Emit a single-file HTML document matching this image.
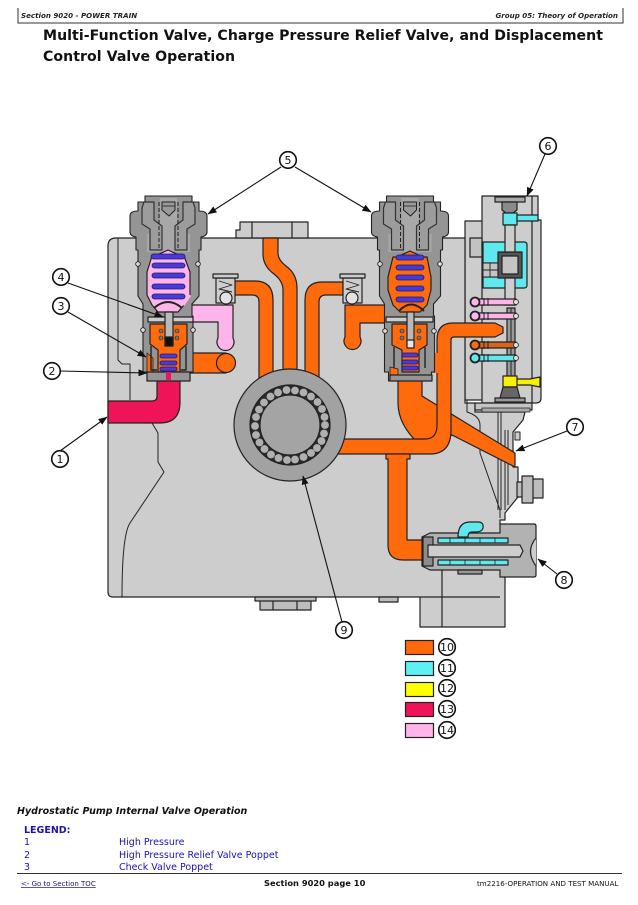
<!DOCTYPE html>
<html><head><meta charset="utf-8"><style>
html,body{margin:0;padding:0;background:#fff}
body{width:638px;height:905px;overflow:hidden}
svg{display:block}
text{font-family:"DejaVu Sans","Liberation Sans",sans-serif}
</style></head><body>
<svg width="638" height="905" viewBox="0 0 638 905" xmlns="http://www.w3.org/2000/svg">
<defs>
<marker id="a" markerWidth="9" markerHeight="7" refX="8.5" refY="3.5" orient="auto" markerUnits="userSpaceOnUse"><path d="M0 0L9 3.5L0 7z" fill="#111"/></marker>
<g id="cap" stroke="#222" stroke-width="1.1">
<path d="M-23 0H24V6H31V15Q39 15 39 20V36Q39 40 33 41V54H31V100L24 108V120H25V176H22V185H-21V176H-25V120H-25V108L-30 100V54H-32V41Q-38 40 -38 36V20Q-38 15 -30 15V6H-23Z" fill="#959595"/>
<path d="M-8 2H9V38L22 38V56H-21V38H-8Z" fill="#a8a8a8" stroke="none"/>
<path d="M-24 6H-14V24L-6 30V54H-18V33L-26 28V12ZM25 6H15V24L7 30V54H19V33L27 28V12Z" fill="#9c9c9c" stroke="#333" stroke-width="1.200"/>
<path d="M-9 6V54M10 6V54" fill="none" stroke-width="1" stroke-dasharray="4 2"/>
<path d="M-6 6H7V14L1 20L-6 14Z" fill="#9a9a9a" stroke-width="1"/>
<path d="M-6 10H7" fill="none" stroke-width=".8"/>
</g>
</defs>
<rect width="638" height="905" fill="#fff"/>
<!-- header -->
<path d="M18 8V23H623V8" fill="none" stroke="#333" stroke-width="1"/>
<text x="21" y="18" font-size="7.1" font-weight="bold" font-style="italic" fill="#222">Section 9020 - POWER TRAIN</text>
<text x="618" y="18" font-size="7.1" font-weight="bold" font-style="italic" fill="#222" text-anchor="end">Group 05: Theory of Operation</text>
<text x="43" y="40" font-size="14.1" font-weight="bold" fill="#111" textLength="560">Multi-Function Valve, Charge Pressure Relief Valve, and Displacement</text>
<text x="43" y="61" font-size="14.1" font-weight="bold" fill="#111" textLength="192">Control Valve Operation</text>

<g stroke="#222" stroke-width="1.2" stroke-linejoin="round">
<!-- right side shell behind body -->
<path d="M465 221H483V400H465Z" fill="#cdcdcd"/>
<!-- main body -->
<path d="M116 238H465V403H475V412H525L523 420L513 432V467H518V497L505 513V520H500V525L505 578V627H420V597H113Q108 597 108 592V246Q108 238 116 238Z" fill="#cdcdcd"/>
<path d="M118 238V360L122 364H130V400" fill="none" stroke-width="1"/>
<path d="M152 423L158 433V462L164 472L130 523Q122 535 122 597" fill="none" stroke-width="1"/>
<path d="M467 400V412Q480 416 480 425V453L500 510V518" fill="none" stroke-width="1"/>
<path d="M498 410V510M501 410V510M505 430V510M508 430V505" fill="none" stroke-width="1"/>
<path d="M515 432H520V440H515Z" fill="#cdcdcd" stroke-width="1"/>
<!-- lower housing pieces -->
<path d="M420 597H500" fill="none"/>
<path d="M442 570V627" fill="none"/>
<path d="M255 597H316V601H255Z M260 601H311V610H260Z M273 601V610M297 601V610" fill="#bdbdbd"/>
<path d="M379 597H398V602H379Z" fill="#bdbdbd"/>
<!-- top port -->
<path d="M236 238V230H240V222H308V238Z" fill="#cdcdcd"/>
<path d="M252 222V238M292 222V238" fill="none"/>
<!-- control block -->
<path d="M482 196H538V220H541V398Q541 403 536 403H482Z" fill="#cdcdcd"/>
<path d="M532 196V403" fill="none"/>
<path d="M475 403H532V410H475Z" fill="#c4c4c4"/>
<path d="M482 408H530V412H482Z" fill="#aaa" stroke-width=".8"/>
<path d="M517 482H522V497H517Z M522 476H533V503H522Z M533 479H543V498H533Z" fill="#bdbdbd"/>

<!-- orange passages -->
<g fill="#ff6a0d">
<path d="M263 238H278V253Q278 260 286 266Q297 274 297 288V385H283V290Q283 281 274 274Q263 266 263 254Z"/>
<path d="M235 281H255Q273 281 273 300V385H259V302Q259 295 252 295H235Z"/>
<path d="M343 282V295H326Q319 295 319 302V385H305V300Q305 282 322 282Z"/>
<path d="M188 353H226V373H188Z"/>
<circle cx="226" cy="363" r="9.500"/>
<path d="M345 305H393V323H360V337A8.500 8.500 0 1 1 345 337Z"/>
<!-- diagonal -->
<path d="M398 378H422V396L515 453V467L452 435L437 445H420Q398 425 398 403Z"/>
<!-- horizontal and riser -->
<path d="M335 439H425Q437 439 437 425V340Q437 323 453 323H495L503 327V333L495 337H454Q451 337 451 340V430Q451 454 430 454H335Z"/>
<path d="M427 353H438V373H427Z" stroke="none"/>
<!-- lower riser -->
<path d="M386 454H410V459H407V540H423V560H403Q388 560 388 545V459H386Z"/>
</g>
<!-- pink passage -->
<path d="M183 305H233V338A8.500 8.500 0 1 1 218 338V322H183Z" fill="#ffb4ea"/>
<!-- red -->
<path d="M157 380H180V402Q180 423 160 423H108V401H152Q157 401 157 396Z" fill="#ef1358"/>
<!-- relief check boxes -->
<g fill="#cdcdcd">
<path d="M216 278H235V303H216Z"/><rect x="213" y="274" width="25" height="4"/>
<path d="M343 278H362V303H343Z"/><rect x="340" y="274" width="25" height="4"/>
</g>
<circle cx="226" cy="298" r="6" fill="#e3e3e3"/>
<circle cx="352" cy="298" r="6" fill="#e3e3e3"/>
<path d="M219 281L232 285L219 289L232 292M346 281L359 285L346 289L359 292" fill="none" stroke-width=".9"/>

<!-- pump -->
<circle cx="290" cy="425" r="56" fill="#a2a2a2"/>
<circle cx="290" cy="425" r="40" fill="#2a2a2a"/>
<g fill="#b0b0b0" stroke="none">
<circle cx="325" cy="425" r="3.900"/><circle cx="324" cy="433.500" r="3.900"/><circle cx="321.500" cy="441" r="3.900"/><circle cx="317" cy="448" r="3.900"/><circle cx="311" cy="453" r="3.900"/><circle cx="303.500" cy="457" r="3.900"/><circle cx="295" cy="459.500" r="3.900"/><circle cx="287" cy="460" r="3.900"/><circle cx="278.500" cy="458" r="3.900"/><circle cx="271" cy="454.500" r="3.900"/><circle cx="264.500" cy="449" r="3.900"/><circle cx="259.500" cy="442.500" r="3.900"/><circle cx="256" cy="435" r="3.900"/><circle cx="255" cy="426" r="3.900"/><circle cx="256" cy="417" r="3.900"/><circle cx="259" cy="409.500" r="3.900"/><circle cx="264" cy="402.500" r="3.900"/><circle cx="270.500" cy="396.500" r="3.900"/><circle cx="278" cy="392.500" r="3.900"/><circle cx="286.500" cy="390" r="3.900"/><circle cx="295" cy="390.500" r="3.900"/><circle cx="303.500" cy="392.500" r="3.900"/><circle cx="311" cy="396.500" r="3.900"/><circle cx="317.500" cy="402" r="3.900"/><circle cx="322" cy="409" r="3.900"/><circle cx="324.500" cy="417" r="3.900"/>
</g>
<circle cx="290" cy="425" r="30" fill="#a4a4a4"/>

<!-- left valve -->
<use href="#cap" x="168" y="196"/>
<path d="M168 250L181 256H184L190 272V295L184 305L178 312H158L152 305L147 295V272L152 256H155Z" fill="#ffb4ea"/>
<path d="M183 305L190 295" fill="none" stroke="#ffb4ea" stroke-width="3"/>
<circle cx="138" cy="264" r="2.300" fill="#ddd" stroke-width=".9"/><circle cx="198" cy="264" r="2.300" fill="#ddd" stroke-width=".9"/>
<circle cx="143" cy="330" r="2.300" fill="#ddd" stroke-width=".9"/><circle cx="193" cy="330" r="2.300" fill="#ddd" stroke-width=".9"/>
<path d="M148 317H193V322H148Z" fill="#cdcdcd"/>
<path d="M150 324H187V344L180 350V372H158V350L150 344Z" fill="#ff6a0d"/>
<path d="M147 353L153 358V372H147Z" fill="#ff6a0d" stroke-width=".8"/>
<path d="M147 372H190V381H147Z" fill="#959595"/>
<path d="M151 346V370H157M186 346V370H181" fill="none" stroke-width="1.400"/>
<path d="M165 312H173V346H165Z" fill="#b9b9b9"/>
<rect x="165" y="337" width="8" height="9" fill="#111"/>
<path d="M154 308Q168 296 182 308" fill="none" stroke-width="2"/>
<rect x="166" y="372" width="5" height="8" fill="#ef1358" stroke="none"/>
<g fill="#4b3bd6" stroke="#1c1c6b" stroke-width=".8">
<rect x="151" y="254" width="34" height="5" rx="2.500"/><rect x="152" y="263" width="33" height="5" rx="2.500"/><rect x="152" y="273" width="33" height="5" rx="2.500"/><rect x="152" y="284" width="33" height="5" rx="2.500"/><rect x="152" y="294" width="33" height="5" rx="2.500"/><rect x="160" y="354" width="17" height="4" rx="2"/><rect x="160" y="361" width="17" height="4" rx="2"/><rect x="160" y="367" width="17" height="4" rx="2"/>
</g>
<g fill="#777" stroke="#222" stroke-width=".6"><circle cx="161" cy="331" r="2"/><circle cx="161" cy="338" r="2"/><circle cx="177" cy="331" r="2"/><circle cx="177" cy="338" r="2"/></g>

<!-- right valve -->
<use href="#cap" x="409.500" y="196"/>
<path d="M410 251L423 257H427L431 277V290L427 305L420 312H400L393 305L388 290V277L393 257H397Z" fill="#ff6a0d"/>
<circle cx="380" cy="264" r="2.300" fill="#ddd" stroke-width=".9"/><circle cx="440" cy="264" r="2.300" fill="#ddd" stroke-width=".9"/>
<circle cx="385" cy="331" r="2.300" fill="#ddd" stroke-width=".9"/><circle cx="434" cy="331" r="2.300" fill="#ddd" stroke-width=".9"/>
<path d="M386 317H433V322H386Z" fill="#cdcdcd"/>
<path d="M392 324H427V345L419 350V372H402V350L392 345Z" fill="#ff6a0d"/>
<path d="M390 367L398 369V375H390Z" fill="#ff6a0d" stroke-width=".8"/>
<path d="M390 375H432V381H390Z" fill="#959595"/>
<path d="M394 347V368M425 347V368" fill="none" stroke-width="1.400"/>
<path d="M407 312H414V346H407Z" fill="#b9b9b9"/>
<rect x="407" y="340" width="7" height="8" fill="#e6e6e6"/>
<path d="M399 311Q411 298 424 311" fill="none" stroke-width="2"/>
<g fill="#4b3bd6" stroke="#1c1c6b" stroke-width=".8">
<rect x="396" y="255" width="28" height="5" rx="2.500"/><rect x="396" y="265" width="28" height="5" rx="2.500"/><rect x="396" y="275" width="28" height="5" rx="2.500"/><rect x="396" y="286" width="28" height="5" rx="2.500"/><rect x="396" y="297" width="28" height="5" rx="2.500"/><rect x="402" y="353" width="16" height="4" rx="2"/><rect x="402" y="360" width="16" height="4" rx="2"/><rect x="402" y="366" width="16" height="4" rx="2"/>
</g>
<g fill="#777" stroke="#222" stroke-width=".6"><circle cx="402" cy="331" r="2"/><circle cx="402" cy="338" r="2"/><circle cx="419" cy="331" r="2"/><circle cx="419" cy="338" r="2"/></g>

<!-- control block internals -->
<rect x="470" y="238" width="12" height="19" fill="#c2c2c2"/>
<rect x="482" y="243" width="4" height="7" fill="#ddd"/>
<rect x="495" y="197" width="30" height="5" fill="#a8a8a8"/>
<path d="M502 202H517V210L513 213H506L502 210Z" fill="#8a8a8a"/>
<path d="M503 213H517V225H503Z" fill="#5fe8ee"/>
<path d="M517 215H538V221H517Z" fill="#5fe8ee"/>
<path d="M483 242H524Q527 242 527 245V285Q527 288 524 288H483V277H498V263H483Z" fill="#5fe8ee"/>
<path d="M483 263H498V277H483ZM490 263V277M483 270H498" fill="#c4c4c4" stroke-width=".9"/>
<path d="M498 252H522V278H498Z" fill="#555"/>
<path d="M502 256H518V274H502Z" fill="#c4c4c4"/>
<path d="M505 225H515V252H505Z M505 278H515V305H505Z" fill="#cdcdcd"/>
<path d="M507 308H515V377H507Z" fill="#9a9a9a"/>
<path d="M511 308V377" fill="none" stroke-width="1"/>
<g>
<path d="M475 299H516V305H475Z M475 313H516V319H475Z" fill="#ffb4ea"/>
<circle cx="475" cy="302" r="4.500" fill="#ffb4ea" stroke-width="1.800"/><circle cx="475" cy="316" r="4.500" fill="#ffb4ea" stroke-width="1.800"/>
<path d="M475 342H516V348H475Z" fill="#d9651c"/><circle cx="475" cy="345" r="4.500" fill="#ff6a0d" stroke-width="1.800"/>
<path d="M475 355H516V361H475Z" fill="#5fe8ee"/><circle cx="475" cy="358" r="4.500" fill="#5fe8ee" stroke-width="1.800"/>
<path d="M484 298V306M488 298V306M484 312V320M488 312V320M484 341V349M488 341V349M484 354V362M488 354V362" fill="none" stroke-width="1"/>
<circle cx="516" cy="302" r="2.500" fill="#ddd" stroke-width=".8"/><circle cx="516" cy="316" r="2.500" fill="#ddd" stroke-width=".8"/><circle cx="516" cy="345" r="2.500" fill="#ddd" stroke-width=".8"/><circle cx="516" cy="358" r="2.500" fill="#ddd" stroke-width=".8"/>
</g>
<path d="M503 376H517V387H503Z M517 379H530L540 377V387L530 385H517Z" fill="#f8f000"/>
<path d="M503 387H517L520 398H500Z" fill="#666"/>
<rect x="495" y="398" width="30" height="4" fill="#999"/>

<!-- valve 8 -->
<path d="M500 533V524H534Q536 524 536 526V575Q536 577 534 577H500V570H430L422 566V537L430 533Z" fill="#b2b2b2"/>
<path d="M423 537H433V566H423Z" fill="#8c8c8c"/>
<path d="M438 538H508V543H438Z M438 560H508V565H438Z" fill="#5fe8ee"/>
<path d="M450 538V543M465 538V543M480 538V543M495 538V543M450 560V565M465 560V565M480 560V565M495 560V565" fill="none" stroke-width=".8"/>
<path d="M428 545H520L523 551L520 557H428Z" fill="#cdcdcd"/>
<path d="M536 538Q525 551 536 566" fill="#cdcdcd"/>
<path d="M458 537Q458 522 470 522H478Q484 522 483 528Q482 532 476 532H472Q468 532 468 537Z" fill="#5fe8ee"/>
<path d="M458 570H482V574H458Z" fill="#999"/>
</g>

<!-- leaders -->
<g stroke="#111" stroke-width="1.100" fill="none">
<path d="M60 451L107 417" marker-end="url(#a)"/>
<path d="M60 371L147 373" marker-end="url(#a)"/>
<path d="M68 312L146 357" marker-end="url(#a)"/>
<path d="M68 283L163 317" marker-end="url(#a)"/>
<path d="M281 167L208 214" marker-end="url(#a)"/>
<path d="M295 167L371 212" marker-end="url(#a)"/>
<path d="M545 154L527 196" marker-end="url(#a)"/>
<path d="M567 431L516 451" marker-end="url(#a)"/>
<path d="M557 574L538 559" marker-end="url(#a)"/>
<path d="M342 622L303 476" marker-end="url(#a)"/>
</g>
<g fill="#fff" stroke="#111" stroke-width="1.600">
<circle cx="60" cy="459" r="8.300"/><circle cx="52" cy="371" r="8.300"/><circle cx="61" cy="306" r="8.300"/><circle cx="61" cy="277" r="8.300"/><circle cx="288" cy="160" r="8.300"/><circle cx="548" cy="146" r="8.300"/><circle cx="575" cy="427" r="8.300"/><circle cx="564" cy="580" r="8.300"/><circle cx="344" cy="630" r="8.300"/>
<circle cx="447" cy="647" r="8.300"/><circle cx="447" cy="668" r="8.300"/><circle cx="447" cy="688" r="8.300"/><circle cx="447" cy="709" r="8.300"/><circle cx="447" cy="730" r="8.300"/>
</g>
<g font-size="11" fill="#111" text-anchor="middle" style="font-family:'Liberation Sans',sans-serif">
<text x="60" y="463">1</text><text x="52" y="375">2</text><text x="61" y="310">3</text><text x="61" y="281">4</text><text x="288" y="164">5</text><text x="548" y="150">6</text><text x="575" y="431">7</text><text x="564" y="584">8</text><text x="344" y="634">9</text>
<text x="447" y="651">10</text><text x="447" y="672">11</text><text x="447" y="692">12</text><text x="447" y="713">13</text><text x="447" y="734">14</text>
</g>
<g stroke="#222" stroke-width="1.200">
<rect x="405.500" y="640.500" width="28" height="14" fill="#ff6a0d"/>
<rect x="405.500" y="661.500" width="28" height="14" fill="#5ff0f4"/>
<rect x="405.500" y="682.500" width="28" height="14" fill="#ffff00"/>
<rect x="405.500" y="702.500" width="28" height="14" fill="#ef1358"/>
<rect x="405.500" y="723.500" width="28" height="14" fill="#ffb4ea"/>
</g>

<!-- caption and legend -->
<text x="17" y="814" font-size="9.500" font-weight="bold" font-style="italic" fill="#111">Hydrostatic Pump Internal Valve Operation</text>
<text x="24" y="833" font-size="9.500" font-weight="bold" fill="#1a12b8">LEGEND:</text>
<g font-size="9.500" fill="#1a12b8">
<text x="24" y="845">1</text><text x="119" y="845">High Pressure</text>
<text x="24" y="858">2</text><text x="119" y="858">High Pressure Relief Valve Poppet</text>
<text x="24" y="870">3</text><text x="119" y="870">Check Valve Poppet</text>
</g>
<path d="M17 873.500H622" stroke="#333" stroke-width="1"/>
<text x="21" y="886" font-size="7" fill="#1a127a" text-decoration="underline">&lt;- Go to Section TOC</text>
<text x="264" y="886" font-size="8.300" font-weight="bold" fill="#111">Section 9020 page 10</text>
<text x="477" y="886" font-size="7.100" fill="#111">tm2216-OPERATION AND TEST MANUAL</text>
</svg>
</body></html>
